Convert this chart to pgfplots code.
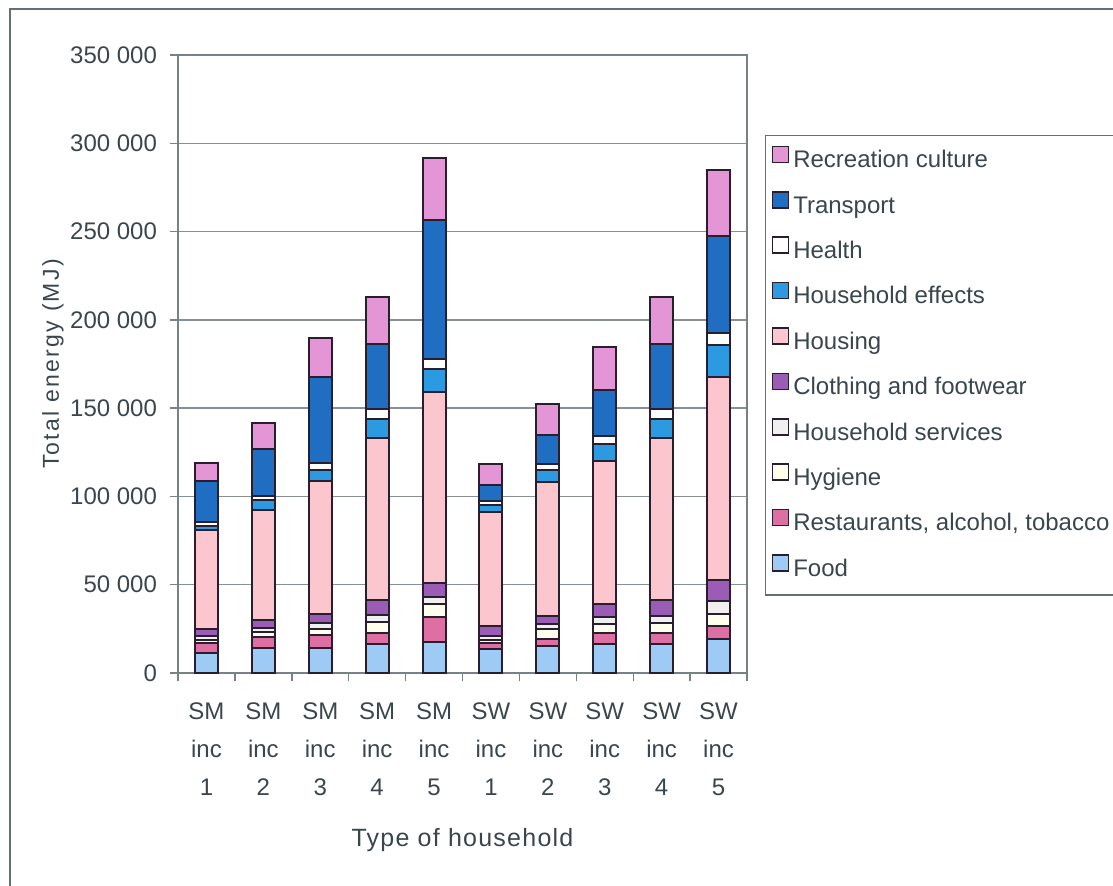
\documentclass[border=0pt]{standalone}
\usepackage{fontspec}
\setmainfont{Liberation Sans}
\usepackage{pgfplots}
\usepackage{pgfplotstable}
\pgfplotsset{compat=1.18}

\definecolor{textgray}{RGB}{58,70,76}
\definecolor{axisgray}{RGB}{120,130,134}
\definecolor{gridgray}{RGB}{135,144,148}
\definecolor{framegray}{RGB}{100,112,118}
\definecolor{barline}{RGB}{40,30,45}
\definecolor{cFood}{HTML}{9DCBF5}
\definecolor{cRest}{HTML}{DD6FA3}
\definecolor{cHyg}{HTML}{FFFFEE}
\definecolor{cHserv}{HTML}{F0F0F0}
\definecolor{cCloth}{HTML}{9A5CB5}
\definecolor{cHousing}{HTML}{FCC6CF}
\definecolor{cHeff}{HTML}{2B9AE0}
\definecolor{cHealth}{HTML}{FFFFFF}
\definecolor{cTransp}{HTML}{1F6EC2}
\definecolor{cRecr}{HTML}{E495D6}

% energy use per household type (MJ), one column per consumption category
\pgfplotstableread{
x food  rest  hyg  hserv cloth housing heff  health transp recr
0 11500 5700  1500 2500  3500  56300   2500  2000   23400  9900
1 14000 6600  2500 2500  4400  62300   5700  2200   26700  14500
2 14000 7500  3500 3500  4700  75700   6100  4100   48300  22100
3 16400 6100  6500 3800  8500  91600   10800 5600   36800  27000
4 17700 14200 7100 4200  7600  108500  12700 5600   78900  35000
5 13400 3400  2000 2000  5800  64700   3800  2500   8700   11900
6 15300 4000  5700 3000  4500  75800   6700  3200   16600  17500
7 16400 6100  5500 3500  7600  81100   9500  4500   26100  24200
8 16400 6100  6000 4000  8800  91600   10800 5600   36800  27000
9 19100 7500  6900 7000  12200 115100  17900 7000   54800  37300
}\energy

\newcommand\chartfont{\fontsize{12}{14}\selectfont}

\begin{document}
\begin{tikzpicture}[x=1pt,y=1pt]
\useasboundingbox (0,0) rectangle (556.5,442.5);
% outer chart frame
\draw[framegray, line width=0.7pt] (5,-10) -- (5,438) -- (600,438);
\begin{axis}[
  at={(89pt,106pt)}, anchor=south west,
  scale only axis, width=284.5pt, height=309pt,
  ybar stacked, bar width=11.5pt,
  xmin=-0.5, xmax=9.5, ymin=0, ymax=350000,
  ytick={0,50000,...,350000},
  scaled y ticks=false,
  yticklabel style={/pgf/number format/fixed, /pgf/number format/1000 sep={\ },
     /pgf/number format/assume math mode=true, xshift=-3pt},
  xtick={0,...,9},
  xticklabels={{SM\\inc\\1},{SM\\inc\\2},{SM\\inc\\3},{SM\\inc\\4},{SM\\inc\\5},
               {SW\\inc\\1},{SW\\inc\\2},{SW\\inc\\3},{SW\\inc\\4},{SW\\inc\\5}},
  minor xtick={-0.5,0.5,...,9.5},
  major x tick style={draw=none},
  xtick pos=lower, ytick pos=left,
  tick align=outside,
  major tick length=4pt, minor tick length=4pt,
  tick style={axisgray, line width=0.7pt},
  axis line style={axisgray, line width=0.7pt},
  ymajorgrids, grid style={gridgray, line width=0.7pt},
  ticklabel style={font=\chartfont, text=textgray},
  xticklabel style={align=center, font=\fontsize{12}{18.8}\selectfont, yshift=-7.5pt},
  every axis y label/.style={at={(axis description cs:-0.2197,0.5)}, rotate=90, anchor=center,
     font=\fontsize{11.5}{13}\selectfont\addfontfeature{LetterSpace=10}, text=textgray},
  every axis x label/.style={at={(axis description cs:0.5,-0.27)}, anchor=center,
     font=\fontsize{12.5}{14}\selectfont\addfontfeature{LetterSpace=5}, text=textgray},
  ylabel={Total energy (MJ)},
  xlabel={Type of household},
  every axis plot/.append style={draw=barline, line width=1pt},
  reverse legend,
  legend cell align=left,
  legend image code/.code={\draw[#1, draw=barline, line width=0.8pt] (0pt,-0.5pt) rectangle (8pt,7.5pt);},
  legend style={at={(1.0316,0.8706)}, anchor=north west,
     draw=framegray, line width=0.7pt, font=\chartfont, text=textgray,
     inner xsep=3pt, inner ysep=5pt, row sep=7.3pt,
     nodes={text height=8.6pt, text depth=2.4pt}},
]
\addplot[fill=cFood]    table[x=x, y=food]    {\energy};
\addplot[fill=cRest]    table[x=x, y=rest]    {\energy};
\addplot[fill=cHyg]     table[x=x, y=hyg]     {\energy};
\addplot[fill=cHserv]   table[x=x, y=hserv]   {\energy};
\addplot[fill=cCloth]   table[x=x, y=cloth]   {\energy};
\addplot[fill=cHousing] table[x=x, y=housing] {\energy};
\addplot[fill=cHeff]    table[x=x, y=heff]    {\energy};
\addplot[fill=cHealth]  table[x=x, y=health]  {\energy};
\addplot[fill=cTransp]  table[x=x, y=transp]  {\energy};
\addplot[fill=cRecr]    table[x=x, y=recr]    {\energy};
\legend{Food, {Restaurants, alcohol, tobacco}, Hygiene, Household services,
        Clothing and footwear, Housing, Household effects, Health, Transport,
        Recreation culture}
\end{axis}
\end{tikzpicture}
\end{document}
